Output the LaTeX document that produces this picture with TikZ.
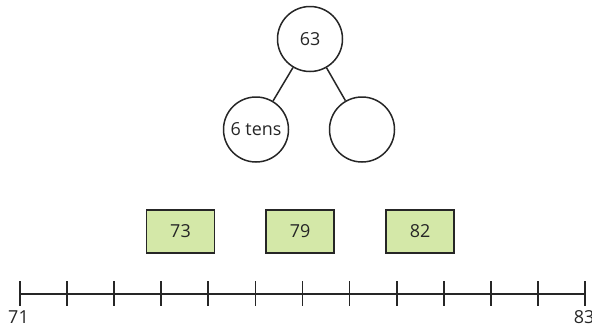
\documentclass[tikz,border=0pt]{standalone}
\usepackage{fontspec}
\setmainfont{Open Sans}
\usetikzlibrary{calc}
\definecolor{boxfill}{HTML}{D4E8A8}
\definecolor{ink}{HTML}{262626}
\begin{document}
\begin{tikzpicture}[x=1bp,y=-1bp,
  every node/.style={font=\fontsize{18}{21}\selectfont, text=ink},
  bond/.style={circle, draw=ink, line width=1.5bp, minimum size=65bp, inner sep=0pt},
  numbox/.style={rectangle, draw=ink, fill=boxfill, line width=1.5bp, minimum width=68bp, minimum height=43bp, inner sep=0pt},
  link/.style={draw=ink, line width=1.5bp},
  axis/.style={draw=ink, line width=1.7bp}]
  \useasboundingbox (0,0) rectangle (592,327);
  % number bond
  \node[bond] (whole) at (310,39) {63};
  \node[bond] (tens) at (256,129.5) {6 tens};
  \node[bond] (ones) at (362,129.5) {};
  \draw[link] (whole) -- (tens);
  \draw[link] (whole) -- (ones);
  % value cards
  \node[numbox] (a) at (180.5,231.5) {73};
  \node[numbox] (b) at (300,231.5) {79};
  \node[numbox] (c) at (420,231.5) {82};
  % number line with 12 equal steps
  \coordinate (start) at (20,294);
  \coordinate (end) at (585,294);
  \draw[axis] (start) -- (end);
  \foreach \k in {0,...,12}
    \draw[axis] ($(start)!\k/12!(end)+(0,-13)$) -- ($(start)!\k/12!(end)+(0,12)$);
  \node[anchor=north] (lo) at (18.5,307) {71};
  \node[anchor=north] (hi) at (584,307) {83};
\end{tikzpicture}
\end{document}
